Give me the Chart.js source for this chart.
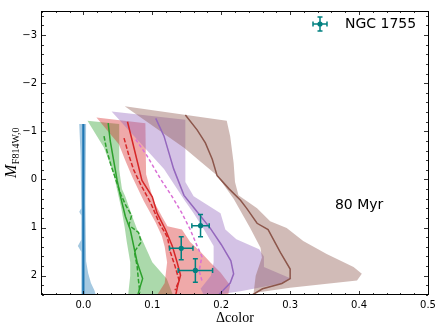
<!DOCTYPE html>
<html>
<head>
<meta charset="utf-8">
<script src="https://cdn.jsdelivr.net/npm/chart.js@4.4.0/dist/chart.umd.min.js"></script>
<style>
html,body{margin:0;padding:0;background:#fff;}
</style>
</head>
<body>
<canvas id="c" width="443" height="331"></canvas>
<script>
// tick labels
const xTicks = [0, 0.1, 0.2, 0.3, 0.4, 0.5];
const yTicks = [-3, -2, -1, 0, 1, 2];

// shaded bands (outline, x = delta colour, M = magnitude)
const blueBandX = [-0.006, 0.004, 0.003, 0.004, 0.007, 0.011, 0.016, 0.018, -0.003, -0.003, -0.008, -0.003, -0.003, -0.006, -0.003, -0.004];
const blueBandM = [-1.15, -1.15, 0.5, 1.7, 1.95, 2.15, 2.3, 2.4, 2.4, 1.5, 1.38, 1.25, 0.75, 0.67, 0.6, -0.5];
const greenBandX = [0.006, 0.052, 0.052, 0.056, 0.061, 0.071, 0.078, 0.085, 0.100, 0.121, 0.130, 0.065, 0.068, 0.068, 0.063, 0.060, 0.055, 0.049, 0.044, 0.037, 0.030];
const greenBandM = [-1.22, -1.15, -0.2, 0.2, 0.36, 0.77, 1.04, 1.24, 1.72, 2.06, 2.4, 2.4, 2.0, 1.72, 1.3, 1.0, 0.6, 0.22, -0.11, -0.39, -0.66];
const redBandX = [0.019, 0.090, 0.091, 0.097, 0.102, 0.114, 0.122, 0.143, 0.155, 0.170, 0.184, 0.199, 0.213, 0.210, 0.107, 0.118, 0.1215, 0.118, 0.114, 0.105, 0.088, 0.080, 0.071, 0.061, 0.0515];
const redBandM = [-1.29, -1.17, -0.11, 0.2, 0.45, 0.77, 0.97, 1.04, 1.3, 1.5, 1.72, 1.93, 2.2, 2.4, 2.4, 2.15, 1.72, 1.4, 1.18, 0.9, 0.46, 0.22, -0.05, -0.39, -0.73];
const purpleBandX = [0.041, 0.148, 0.148, 0.160, 0.199, 0.206, 0.222, 0.255, 0.262, 0.262, 0.302, 0.290, 0.228, 0.190, 0.175, 0.170, 0.185, 0.189, 0.189, 0.175, 0.160, 0.148, 0.117, 0.080];
const purpleBandM = [-1.41, -1.24, 0.05, 0.35, 0.70, 1.04, 1.24, 1.45, 1.6, 1.82, 2.06, 2.15, 2.32, 2.4, 2.4, 2.27, 2.0, 1.72, 1.38, 1.04, 0.7, 0.46, -0.22, -0.8];
const brownBandX = [0.060, 0.208, 0.213, 0.218, 0.220, 0.225, 0.252, 0.271, 0.295, 0.319, 0.353, 0.392, 0.404, 0.397, 0.300, 0.247, 0.250, 0.259, 0.257, 0.242, 0.218, 0.194, 0.146];
const brownBandM = [-1.52, -1.22, -0.9, -0.35, 0.05, 0.33, 0.6, 0.87, 1.01, 1.28, 1.55, 1.82, 1.96, 2.1, 2.25, 2.36, 2.0, 1.62, 1.42, 1.01, 0.4, -0.08, -0.66];

// fiducial lines
const blueLineX = [0, 0];
const blueLineM = [-1.15, 2.4];
const greenLineX = [0.036, 0.039, 0.044, 0.049, 0.054, 0.061, 0.068, 0.073, 0.078, 0.086, 0.083, 0.079];
const greenLineM = [-1.17, -0.8, -0.39, 0.02, 0.36, 0.77, 1.04, 1.38, 1.72, 2.06, 2.2, 2.4];
const greenDashX = [0.030, 0.034, 0.040, 0.047, 0.054, 0.062, 0.070, 0.066, 0.080, 0.084, 0.074, 0.078, 0.080, 0.082];
const greenDashM = [-0.9, -0.6, -0.3, 0.0, 0.3, 0.55, 0.75, 0.95, 1.1, 1.3, 1.5, 1.8, 2.1, 2.35];
const redLineX = [0.064, 0.071, 0.078, 0.085, 0.100, 0.107, 0.119, 0.129, 0.136, 0.141, 0.137, 0.134];
const redLineM = [-1.2, -0.8, -0.39, 0.02, 0.36, 0.70, 1.04, 1.38, 1.72, 1.99, 2.2, 2.4];
const redDashX = [0.059, 0.066, 0.073, 0.083, 0.098, 0.110, 0.122, 0.126, 0.133, 0.139, 0.133];
const redDashM = [-0.86, -0.5, -0.2, 0.1, 0.5, 0.9, 1.2, 1.5, 1.8, 2.1, 2.3];
const magDashX = [0.076, 0.092, 0.112, 0.129, 0.143, 0.155, 0.165, 0.172, 0.168, 0.172];
const magDashM = [-0.83, -0.5, -0.01, 0.36, 0.70, 1.04, 1.38, 1.6, 1.9, 2.1];
const purpleLineX = [0.105, 0.117, 0.131, 0.146, 0.165, 0.184, 0.200, 0.214, 0.218, 0.213, 0.196];
const purpleLineM = [-1.27, -0.9, -0.22, 0.33, 0.67, 1.01, 1.35, 1.69, 1.96, 2.15, 2.4];
const brownLineX = [0.148, 0.165, 0.177, 0.187, 0.194, 0.211, 0.228, 0.237, 0.252, 0.268, 0.286, 0.300, 0.300, 0.288, 0.260, 0.245];
const brownLineM = [-1.34, -1.03, -0.76, -0.42, -0.08, 0.19, 0.43, 0.6, 0.91, 1.04, 1.52, 1.86, 2.06, 2.16, 2.27, 2.4];

// NGC 1755 measurements
const ngcColor = [0.170, 0.142, 0.1625];
const ngcColorErr = [0.0126, 0.017, 0.025];
const ngcMag = [0.96, 1.43, 1.89];
const ngcMagErr = [0.23, 0.24, 0.245];

const TEAL = '#008080';

const pts = (xs, ms) => xs.map((x, i) => ({x: x, y: ms[i]}));
const band = (xs, ms, col) => ({
  data: pts(xs, ms), showLine: true, fill: 'shape', backgroundColor: col,
  borderColor: 'rgba(0,0,0,0)', borderWidth: 0, pointRadius: 0, tension: 0
});
const line = (xs, ms, col, w, dash) => ({
  data: pts(xs, ms), showLine: true, fill: false, borderColor: col,
  borderWidth: w, borderDash: dash || [], pointRadius: 0, tension: 0
});

// first dataset is drawn last
const datasets = [
  line(brownLineX, brownLineM, '#8c564b', 1.5),
  line(purpleLineX, purpleLineM, '#9467bd', 1.5),
  line(magDashX, magDashM, '#da70d6', 1.5, [3.5, 2.5]),
  line(redDashX, redDashM, '#d62728', 1.5, [4.5, 2]),
  line(redLineX, redLineM, '#d62728', 1.5),
  line(greenDashX, greenDashM, '#2ca02c', 1.5, [4.5, 2]),
  line(greenLineX, greenLineM, '#2ca02c', 1.5),
  line(blueLineX, blueLineM, '#1f77b4', 2.2),
  band(brownBandX, brownBandM, 'rgba(140,86,75,0.4)'),
  band(purpleBandX, purpleBandM, 'rgba(148,103,189,0.4)'),
  band(redBandX, redBandM, 'rgba(214,39,40,0.4)'),
  band(greenBandX, greenBandM, 'rgba(44,160,44,0.4)'),
  band(blueBandX, blueBandM, 'rgba(31,119,180,0.4)')
];

function errBar(ctx, cx, cy, x0, x1, y0, y1) {
  const cap = 2.5;
  ctx.beginPath();
  ctx.moveTo(x0, cy); ctx.lineTo(x1, cy);
  ctx.moveTo(cx, y0); ctx.lineTo(cx, y1);
  ctx.moveTo(x0, cy - cap); ctx.lineTo(x0, cy + cap);
  ctx.moveTo(x1, cy - cap); ctx.lineTo(x1, cy + cap);
  ctx.moveTo(cx - cap, y0); ctx.lineTo(cx + cap, y0);
  ctx.moveTo(cx - cap, y1); ctx.lineTo(cx + cap, y1);
  ctx.stroke();
  ctx.beginPath();
  ctx.arc(cx, cy, 2.6, 0, Math.PI * 2);
  ctx.fill();
}

const decor = {
  id: 'decor',
  afterDatasetsDraw(chart) {
    const ctx = chart.ctx;
    const xs = chart.scales.x, ys = chart.scales.y;
    const a = chart.chartArea;

    // data points with error bars
    ctx.save();
    ctx.strokeStyle = TEAL; ctx.fillStyle = TEAL; ctx.lineWidth = 1.5;
    ngcColor.forEach((c, i) => {
      errBar(ctx, xs.getPixelForValue(c), ys.getPixelForValue(ngcMag[i]),
        xs.getPixelForValue(c - ngcColorErr[i]), xs.getPixelForValue(c + ngcColorErr[i]),
        ys.getPixelForValue(ngcMag[i] - ngcMagErr[i]), ys.getPixelForValue(ngcMag[i] + ngcMagErr[i]));
    });
    ctx.restore();

    // frame and inward ticks
    ctx.save();
    ctx.strokeStyle = '#000'; ctx.lineWidth = 1;
    ctx.strokeRect(Math.round(a.left) - 0.5, Math.round(a.top) + 0.5, Math.round(a.right - a.left) + 1, Math.round(a.bottom - a.top) - 1);
    ctx.lineWidth = 0.8;
    ctx.beginPath();
    for (let k = -3; k <= 25; k++) {
      const v = k * 0.02;
      const px = Math.round(xs.getPixelForValue(v)) + 0.5;
      const len = (k % 5 === 0) ? 4 : 2;
      ctx.moveTo(px, a.bottom); ctx.lineTo(px, a.bottom - len);
      ctx.moveTo(px, a.top); ctx.lineTo(px, a.top + len);
    }
    for (let k = -17; k <= 12; k++) {
      const v = k * 0.2;
      const py = Math.round(ys.getPixelForValue(v)) + 0.5;
      const len = (k % 5 === 0) ? 4 : 2;
      ctx.moveTo(a.left, py); ctx.lineTo(a.left + len, py);
      ctx.moveTo(a.right, py); ctx.lineTo(a.right - len, py);
    }
    ctx.stroke();
    ctx.restore();

    // texts
    ctx.save();
    ctx.fillStyle = '#000';
    ctx.textBaseline = 'middle';
    ctx.textAlign = 'left';
    ctx.font = '14px "DejaVu Sans"';
    ctx.fillText('80 Myr', xs.getPixelForValue(0.365), ys.getPixelForValue(0.53));
    ctx.fillText('NGC 1755', 345, 24);

    // x title
    ctx.textBaseline = 'alphabetic';
    ctx.textAlign = 'center';
    ctx.font = '14px "Liberation Serif"';
    ctx.fillText('\u0394color', (a.left + a.right) / 2, 322);

    // y title
    ctx.translate(16, (a.top + a.bottom) / 2);
    ctx.rotate(-Math.PI / 2);
    ctx.textAlign = 'left';
    ctx.font = 'italic 16px "Liberation Serif"';
    const wM = ctx.measureText('M').width;
    ctx.font = '10px "Liberation Serif"';
    const wS = ctx.measureText('F814W,0').width;
    const start = -(wM + wS) / 2;
    ctx.font = 'italic 16px "Liberation Serif"';
    ctx.fillText('M', start, 0);
    ctx.font = '10px "Liberation Serif"';
    ctx.fillText('F814W,0', start + wM + 0.5, 3);
    ctx.restore();

    // legend symbol
    ctx.save();
    ctx.strokeStyle = TEAL; ctx.fillStyle = TEAL; ctx.lineWidth = 1.5;
    errBar(ctx, 320, 24, 313, 327, 17, 31);
    ctx.restore();
  }
};

new Chart(document.getElementById('c'), {
  type: 'scatter',
  data: {datasets: datasets},
  options: {
    responsive: false,
    animation: false,
    events: [],
    layout: {padding: {top: 6, right: 15, left: 0, bottom: 0}},
    plugins: {
      legend: {display: false},
      tooltip: {enabled: false},
      filler: {drawTime: 'beforeDatasetsDraw'}
    },
    scales: {
      x: {
        type: 'linear', min: -0.06, max: 0.5,
        grid: {display: false, drawTicks: false},
        border: {display: false},
        ticks: {
          font: {family: 'DejaVu Sans', size: 10}, color: '#000', padding: 4,
          maxRotation: 0, autoSkip: false,
          callback: v => Number(v).toFixed(1)
        },
        afterBuildTicks: s => { s.ticks = xTicks.map(v => ({value: v})); },
        afterFit: s => { s.height = 36; }
      },
      y: {
        type: 'linear', reverse: true, min: -3.5, max: 2.4,
        grid: {display: false, drawTicks: false},
        border: {display: false},
        ticks: {
          font: {family: 'DejaVu Sans', size: 10}, color: '#000', padding: 5,
          autoSkip: false,
          callback: v => v < 0 ? '\u2212' + Math.abs(v) : String(v)
        },
        afterBuildTicks: s => { s.ticks = yTicks.map(v => ({value: v})); },
        afterFit: s => { s.width = 42; }
      }
    }
  },
  plugins: [decor]
});
</script>
</body>
</html>
